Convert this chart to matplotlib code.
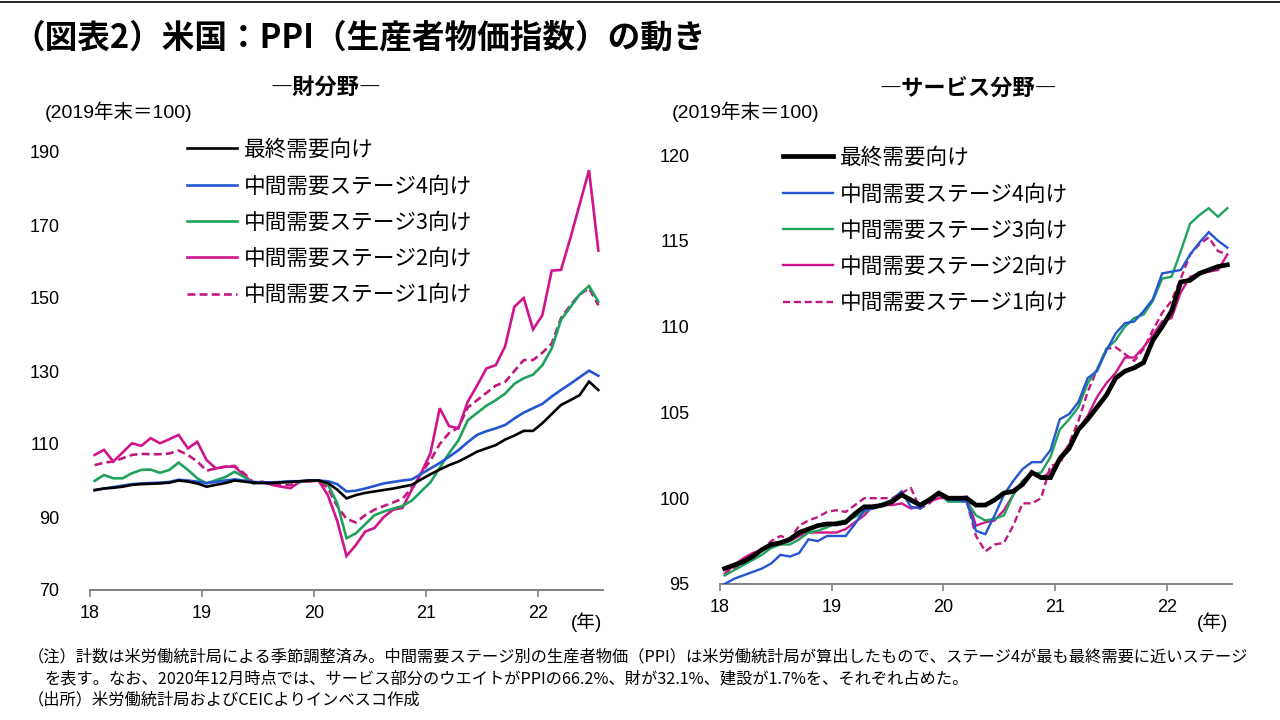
import matplotlib
matplotlib.use("Agg")
import matplotlib.pyplot as plt
import numpy as np

plt.rcParams['font.family'] = ['Noto Sans CJK JP', 'DejaVu Sans']
NUM_FONT = ['Liberation Sans', 'Noto Sans CJK JP']

# monthly, Jan 2018 - Jul 2022 (2019年末=100)
year_ticks = ['18', '19', '20', '21', '22']

# --- 財分野 ---
goods_final = [97.4, 97.8, 98.0, 98.3, 98.8, 99.0, 99.1, 99.2, 99.4, 100.0, 99.7, 99.2,
               98.3, 98.8, 99.3, 100.0, 99.7, 99.4, 99.3, 99.3, 99.5, 99.6, 99.8, 100.0,
               100.0, 99.3, 97.5, 95.1, 96.0, 96.6, 97.0, 97.4, 97.8, 98.3, 98.8, 100.3,
               101.7, 103.0, 104.2, 105.2, 106.5, 107.9, 108.8, 109.7, 111.2, 112.3, 113.6, 113.6,
               115.7, 118.2, 120.7, 122.0, 123.4, 127.1, 124.8]
goods_s4 = [97.3, 97.8, 98.2, 98.6, 99.0, 99.2, 99.3, 99.4, 99.6, 100.2, 100.0, 99.7,
            99.3, 99.6, 100.0, 100.3, 100.0, 99.6, 99.5, 99.5, 99.6, 99.8, 99.8, 100.0,
            100.0, 99.8, 99.0, 97.0, 97.2, 97.8, 98.5, 99.2, 99.6, 100.0, 100.3, 101.8,
            103.3, 104.8, 106.5, 108.3, 110.5, 112.5, 113.5, 114.3, 115.2, 117.0, 118.6, 119.8,
            121.0, 123.0, 124.8, 126.5, 128.3, 130.1, 128.7]
goods_s3 = [99.9, 101.5, 100.6, 100.6, 102.0, 102.9, 103.0, 102.1, 102.9, 104.9, 102.9, 100.6,
            99.2, 100.1, 100.9, 102.4, 101.0, 99.2, 99.4, 99.3, 99.5, 99.7, 99.6, 100.0,
            100.0, 99.0, 93.8, 84.2, 85.5, 88.0, 90.5, 91.5, 92.3, 93.0, 94.5, 97.0,
            99.5, 103.5, 107.5, 111.0, 116.5, 118.5, 120.5, 122.0, 123.8, 126.5, 128.0, 129.0,
            131.6, 136.2, 144.0, 147.5, 151.0, 153.3, 149.0]
goods_s2 = [107.0, 108.4, 105.2, 107.7, 110.2, 109.5, 111.6, 110.2, 111.3, 112.5, 108.8, 110.6,
            105.6, 103.3, 103.8, 103.8, 101.5, 99.2, 99.7, 98.8, 98.3, 97.9, 99.7, 99.7,
            100.0, 96.0, 89.0, 79.3, 82.3, 86.0, 87.0, 90.0, 92.0, 92.5, 97.5, 102.0,
            107.5, 119.8, 114.9, 114.3, 121.6, 126.0, 130.7, 131.6, 136.7, 147.6, 150.0, 141.4,
            145.3, 157.5, 157.7, 166.4, 175.7, 185.0, 163.0]
goods_s1 = [104.2, 104.9, 105.2, 106.1, 107.0, 107.3, 107.2, 107.2, 107.4, 108.2, 107.0, 105.2,
            102.7, 103.3, 103.8, 104.0, 102.0, 99.5, 99.5, 99.0, 98.8, 98.8, 99.6, 100.0,
            100.0, 98.0, 93.0, 89.5, 88.5, 90.5, 92.0, 93.0, 94.0, 95.0, 98.0, 102.0,
            105.5, 110.0, 113.0, 114.5, 120.0, 122.0, 124.0, 126.0, 127.0, 130.0, 133.0, 133.0,
            135.0, 137.5, 144.5, 148.0, 151.0, 152.7, 148.0]

# --- サービス分野 ---
serv_final = [95.9, 96.1, 96.3, 96.6, 97.0, 97.3, 97.4, 97.6, 98.0, 98.2, 98.4, 98.5,
              98.5, 98.6, 99.1, 99.5, 99.5, 99.6, 99.8, 100.2, 99.9, 99.6, 99.9, 100.3,
              100.0, 100.0, 100.0, 99.6, 99.6, 99.9, 100.3, 100.4, 100.8, 101.5, 101.2, 101.2,
              102.3, 102.9, 104.0, 104.6, 105.3, 106.0, 107.0, 107.4, 107.6, 107.9, 109.2, 110.0,
              110.9, 112.6, 112.7, 113.1, 113.3, 113.5, 113.6]
serv_s4 = [95.0, 95.3, 95.5, 95.7, 95.9, 96.2, 96.7, 96.6, 96.8, 97.6, 97.5, 97.8,
           97.8, 97.8, 98.5, 99.3, 99.4, 99.6, 99.9, 100.4, 99.5, 99.4, 99.9, 100.3,
           99.9, 99.9, 99.8, 98.1, 97.9, 99.0, 100.2, 101.0, 101.7, 102.1, 102.1, 102.8,
           104.6, 104.9, 105.6, 107.0, 107.4, 108.6, 109.6, 110.2, 110.3, 110.9, 111.6, 113.1,
           113.2, 113.3, 114.2, 114.9, 115.5, 115.0, 114.6]
serv_s3 = [95.5, 95.8, 96.1, 96.4, 96.7, 97.1, 97.3, 97.3, 97.6, 98.0, 98.1, 98.3,
           98.6, 98.7, 98.9, 99.2, 99.5, 99.7, 99.9, 100.3, 99.8, 99.6, 100.0, 100.3,
           99.8, 99.8, 99.8, 99.0, 98.7, 98.8, 99.0, 100.2, 101.0, 101.4, 101.5, 102.4,
           104.0, 104.6, 105.3, 106.7, 107.5, 108.7, 109.2, 110.0, 110.5, 110.7, 111.5, 112.8,
           112.9, 114.4, 116.0, 116.5, 116.9, 116.4, 116.9]
serv_s2 = [95.6, 96.1, 96.5, 96.8, 97.0, 97.2, 97.4, 97.5, 97.8, 98.0, 98.0, 98.0,
           98.0, 98.2, 98.6, 99.0, 99.6, 99.6, 99.6, 99.7, 99.4, 99.5, 99.8, 100.0,
           100.0, 100.0, 100.1, 98.4, 98.6, 98.7, 99.3, 100.2, 101.0, 101.5, 101.2, 101.5,
           102.4, 103.1, 104.0, 104.8, 105.9, 106.7, 107.3, 108.2, 108.2, 108.8, 109.5, 110.3,
           110.5, 112.0, 112.9, 113.1, 113.2, 113.3, 114.2]
serv_s1 = [95.5, 95.9, 96.2, 96.6, 97.0, 97.5, 97.8, 97.6, 98.4, 98.7, 98.9, 99.2,
           99.3, 99.2, 99.6, 100.0, 100.0, 100.0, 100.0, 100.3, 100.6, 99.4, 99.7, 100.2,
           99.9, 100.0, 99.8, 97.8, 96.9, 97.3, 97.4, 98.4, 99.7, 99.7, 100.0, 101.9,
           102.0, 103.2, 104.5, 106.2, 107.5, 108.7, 108.8, 108.4, 108.0, 108.7, 109.8, 110.8,
           111.5, 112.8, 114.2, 114.8, 115.2, 114.4, 114.2]

labels = ['最終需要向け', '中間需要ステージ4向け', '中間需要ステージ3向け',
          '中間需要ステージ2向け', '中間需要ステージ1向け']
colors = ['#000000', '#2456D3', '#1FA35C', '#D0148C', '#C0187F']
styles = ['-', '-', '-', '-', (0, (3, 1.6))]

W, H = 1280, 720
fig = plt.figure(figsize=(12.8, 7.2), dpi=100)


def px(x, y):
    return x / W, 1 - y / H


def draw_panel(rect, series, ylim, yticks, final_lw, other_lw, legend_xy):
    ax = fig.add_axes(rect)
    x = np.arange(len(series[0])) + 0.5
    for k, s in enumerate(series):
        lw = final_lw if k == 0 else other_lw
        ax.plot(x, s, color=colors[k], linestyle=styles[k], lw=lw,
                label=labels[k], solid_joinstyle='miter', zorder=5 - k if k else 6)
    ax.set_xlim(0, len(x))
    ax.set_ylim(*ylim)
    ax.set_yticks(yticks)
    ax.set_yticklabels([str(v) for v in yticks], family=NUM_FONT, fontsize=13)
    ax.set_xticks([0, 12, 24, 36, 48])
    ax.set_xticklabels(year_ticks, family=NUM_FONT, fontsize=13)
    for side in ['left', 'right', 'top']:
        ax.spines[side].set_visible(False)
    ax.spines['bottom'].set_linewidth(1.4)
    ax.spines['bottom'].set_color('#808080')
    ax.tick_params(axis='y', length=0, pad=22)
    ax.tick_params(axis='x', length=5, width=1.2, color='#808080', direction='out', pad=6)
    handles, labs = ax.get_legend_handles_labels()
    ax.legend(handles, labs, loc='upper left', bbox_to_anchor=px(*legend_xy),
              bbox_transform=fig.transFigure, frameon=False, fontsize=15.6,
              handlelength=2.3, handletextpad=0.33, labelspacing=0.66,
              borderaxespad=0, borderpad=0)
    return ax


draw_panel([90 / W, 130 / H, 513 / W, 438 / H],
           [goods_final, goods_s4, goods_s3, goods_s2, goods_s1],
           (70, 190), [70, 90, 110, 130, 150, 170, 190], 1.9, 1.9, (187, 139))
draw_panel([720 / W, 136 / H, 512 / W, 429 / H],
           [serv_final, serv_s4, serv_s3, serv_s2, serv_s1],
           (95, 120), [95, 100, 105, 110, 115, 120], 3.4, 1.7, (783, 147))

# top rule
fig.add_artist(plt.Line2D([0, 1], [1 - 1.5 / H, 1 - 1.5 / H], color='black', lw=1.2))

fig.text(*px(12, 38), '（図表2）米国：PPI（生産者物価指数）の動き', fontsize=23.5,
         fontweight='bold', va='center', ha='left')
fig.text(*px(326, 88), '―財分野―', fontsize=16, fontweight='bold', va='center', ha='center')
fig.text(*px(968, 88), '―サービス分野―', fontsize=16, fontweight='bold', va='center', ha='center')
fig.text(*px(45, 112), '(2019年末＝100)', fontsize=14, family=NUM_FONT, va='center')
fig.text(*px(672, 112), '(2019年末＝100)', fontsize=14, family=NUM_FONT, va='center')
fig.text(*px(587, 622), '(年)', fontsize=13.5, family=NUM_FONT, va='center', ha='center')
fig.text(*px(1213, 622), '(年)', fontsize=13.5, family=NUM_FONT, va='center', ha='center')

notes = ['（注）計数は米労働統計局による季節調整済み。中間需要ステージ別の生産者物価（PPI）は米労働統計局が算出したもので、ステージ4が最も最終需要に近いステージ',
         'を表す。なお、2020年12月時点では、サービス部分のウエイトがPPIの66.2%、財が32.1%、建設が1.7%を、それぞれ占めた。',
         '（出所）米労働統計局およびCEICよりインベスコ作成']
fig.text(*px(28, 657), notes[0], fontsize=11.7, va='center')
fig.text(*px(44, 679), notes[1], fontsize=11.7, va='center')
fig.text(*px(28, 700), notes[2], fontsize=11.7, va='center')

fig.savefig('out.png', dpi=100)
